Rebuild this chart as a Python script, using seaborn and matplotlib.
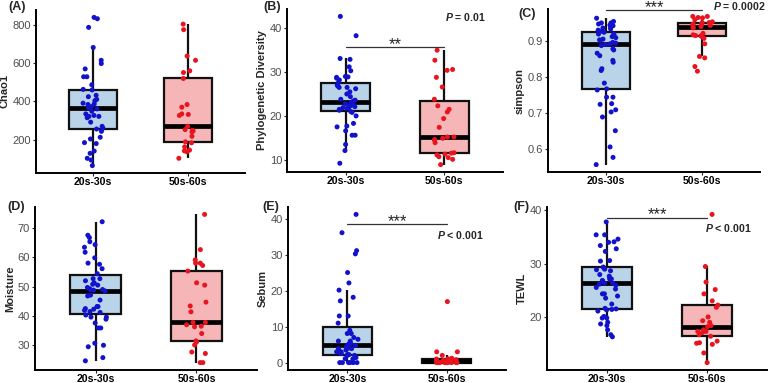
import matplotlib
matplotlib.use("Agg")
import numpy as np
import pandas as pd
import matplotlib.pyplot as plt
import seaborn as sns

sns.set_style("white")
plt.rcParams["font.family"] = ["Liberation Sans", "DejaVu Sans"]
plt.rcParams["mathtext.fontset"] = "custom"
plt.rcParams["mathtext.it"] = "Liberation Sans:italic:bold"
plt.rcParams["mathtext.rm"] = "Liberation Sans:bold"

np.random.seed(3)

# ---------------------------
# Data
# ---------------------------
groups = ["20s-30s", "50s-60s"]

chao1_young = [838, 831, 786, 681, 614, 597, 569, 528, 528, 486, 462, 459, 431, 424,
               410, 403, 390, 386, 383, 372, 366, 360, 348, 334, 326, 321, 321, 314,
               291, 269, 259, 255, 243, 212, 203, 184, 179, 140, 128, 102, 93, 64]
chao1_old = [803, 774, 636, 614, 559, 550, 519, 383, 369, 334, 331, 326, 269, 252,
             248, 245, 240, 217, 188, 183, 162, 145, 141, 136, 102]

pd_young = [42.7, 38.3, 33.1, 32.9, 31.2, 30.3, 29.0, 28.9, 28.8, 28.6, 28.2, 27.6,
            27.0, 26.8, 26.5, 26.5, 26.2, 25.5, 25.0, 24.4, 23.8, 23.6, 23.4,
            23.0, 22.8, 22.6, 22.4, 22.2, 22.1, 21.9, 21.9, 21.7, 21.5, 21.3, 21.0,
            20.8, 20.0, 18.3, 17.7, 17.5, 16.6, 15.6, 15.6, 13.5, 12.1, 9.2]
pd_old = [35.0, 32.7, 30.6, 30.4, 28.8, 26.6, 23.8, 22.3, 21.5, 20.9, 19.4, 17.4,
          15.2, 15.2, 14.9, 14.6, 14.5, 13.9, 11.6, 11.3, 11.5, 11.1, 10.7, 10.5,
          10.1, 8.9]

simpson_young = [0.964, 0.955, 0.951, 0.951, 0.948, 0.945, 0.943, 0.939, 0.937, 0.934,
                 0.931, 0.928, 0.925, 0.920, 0.920, 0.918, 0.913, 0.910, 0.906, 0.904,
                 0.902, 0.897, 0.895, 0.893, 0.891, 0.888, 0.879, 0.876, 0.867, 0.860,
                 0.847, 0.842, 0.824, 0.819, 0.784, 0.768, 0.765, 0.745, 0.745, 0.727,
                 0.725, 0.710, 0.704, 0.690, 0.652, 0.607, 0.578, 0.558]
simpson_old = [0.969, 0.969, 0.966, 0.965, 0.960, 0.954, 0.952, 0.952, 0.948, 0.948,
               0.946, 0.944, 0.941, 0.939, 0.937, 0.922, 0.918, 0.916, 0.915, 0.913,
               0.908, 0.893, 0.858, 0.854, 0.830, 0.817]

moisture_young = [72.1, 67.5, 66.7, 65.3, 64.3, 63.4, 61.7, 59.8, 58.0, 57.6, 56.1,
                  54.4, 52.7, 52.7, 52.0, 51.3, 50.8, 50.5, 49.7, 49.3, 49.0, 49.0,
                  48.8, 48.5, 47.1, 46.8, 45.4, 43.2, 43.2, 42.5, 42.3, 41.9, 41.5,
                  41.2, 40.3, 39.6, 39.6, 38.9, 37.6, 35.9, 35.9, 30.7, 30.0, 29.5,
                  25.8, 24.7]
moisture_old = [74.6, 62.6, 59.1, 58.0, 58.0, 57.2, 55.3, 51.3, 50.5, 44.7, 43.4, 41.4,
                37.8, 37.8, 37.0, 36.5, 36.3, 34.0, 31.5, 31.1, 30.1, 27.7, 27.2,
                24.1, 24.1]

sebum_young = [41.3, 36.2, 31.2, 30.3, 25.1, 22.2, 20.2, 18.2, 17.2, 13.0, 13.0, 11.0,
               9.0, 8.1, 8.1, 7.0, 6.5, 6.0, 6.0, 5.3, 5.3, 5.0, 5.0, 4.8, 4.4, 4.0,
               3.9, 3.9, 3.5, 3.0, 3.0, 3.0, 3.0, 2.5, 2.3, 2.2, 2.0, 2.0, 1.4, 1.1,
               1.0, 0, 0, 0, 0, 0, 0]
sebum_old = [17, 3, 3, 2, 1.2, 1, 1, 1, 1, 1, 0.8, 0.6, 0.5, 0.3,
             0, 0, 0, 0, 0, 0, 0, 0, 0, 0, 0]

tewl_young = [37.8, 35.4, 35.4, 34.6, 34.1, 34.0, 33.4, 32.8, 32.3, 30.6, 30.5, 29.4,
              29.3, 29.0, 28.9, 28.7, 28.0, 27.7, 27.2, 27.2, 26.9, 26.8, 26.4, 26.4,
              26.2, 26.0, 25.6, 25.3, 24.4, 24.4, 24.0, 23.6, 22.5, 21.7, 21.6, 21.5,
              21.4, 21.2, 20.2, 19.9, 19.9, 19.1, 18.8, 18.5, 17.7, 16.8, 16.4]
tewl_old = [39.2, 29.5, 26.6, 25.2, 24.4, 23.1, 22.3, 21.9, 20.1, 19.4, 19.1, 18.5,
            18.3, 17.7, 17.4, 17.4, 17.2, 16.8, 16.5, 15.6, 15.3, 15.2, 15.0, 13.4, 11.6]

panel_labels = ["(A)", "(B)", "(C)", "(D)", "(E)", "(F)"]
ylabels = ["Chao1", "Phylogenetic Diversity", "simpson", "Moisture", "Sebum", "TEWL"]
yticks = [[200, 400, 600, 800], [10, 20, 30, 40], [0.6, 0.7, 0.8, 0.9],
          [30, 40, 50, 60, 70], [0, 10, 20, 30, 40], [20, 30, 40]]
ytick_labels = [["200", "400", "600", "800"], ["10", "20", "30", "40"],
                ["0.6", "0.7", "0.8", "0.9"], ["30", "40", "50", "60", "70"],
                ["0", "10", "20", "30", "40"], ["20", "30", "40"]]
values = [(chao1_young, chao1_old), (pd_young, pd_old), (simpson_young, simpson_old),
          (moisture_young, moisture_old), (sebum_young, sebum_old), (tewl_young, tewl_old)]

# significance: (bracket y, stars, p text, p x, p y)
signif = [None,
          (35.7, "**", r"$\it{P}$ = 0.01", 1.22, 42.5),
          (0.986, "***", r"$\it{P}$ = 0.0002", 1.39, 0.997),
          None,
          (38.6, "***", r"$\it{P}$ < 0.001", 1.14, 35.6),
          (38.6, "***", r"$\it{P}$ < 0.001", 1.21, 36.6)]

box_fill = {"20s-30s": "#b9d3e9", "50s-60s": "#f6b6b8"}
dot_col = {"20s-30s": "#1212cc", "50s-60s": "#e8141e"}

# axes boxes in pixels: left, top, right, bottom
W, H = 768, 383
boxes = [(36, 10, 245, 173), (287, 9, 503, 172), (548, 9, 760, 172),
         (35, 207, 257, 370), (288, 207, 506, 370), (547, 207, 767, 370)]
label_pos = [(8, 7), (263, 7), (518, 14), (7, 207), (262, 207), (513, 207)]

fig = plt.figure(figsize=(7.68, 3.83), dpi=100)

for i in range(6):
    l, t, r, b = boxes[i]
    ax = fig.add_axes([l / W, 1 - b / H, (r - l) / W, (b - t) / H])
    young, old = values[i]
    df = pd.DataFrame({"group": [groups[0]] * len(young) + [groups[1]] * len(old),
                       "value": list(young) + list(old)})

    sns.boxplot(data=df, x="group", y="value", hue="group", palette=box_fill,
                saturation=1, width=0.5, showcaps=False, showfliers=False,
                linecolor="#111111", linewidth=1.6,
                medianprops={"linewidth": 3.4, "color": "black"},
                legend=False, ax=ax)
    sns.stripplot(data=df, x="group", y="value", hue="group", palette=dot_col,
                  jitter=0.11, size=3.6, linewidth=0, legend=False, zorder=3, ax=ax)

    lo, hi = df["value"].min(), df["value"].max()
    pad = 0.05 * (hi - lo)
    ax.set_ylim(lo - pad, hi + pad)
    ax.set_xlim(-0.6, 1.6)
    ax.set_yticks(yticks[i])
    ax.set_yticklabels(ytick_labels[i])
    ax.set_xlabel("")
    ax.set_ylabel(ylabels[i], fontsize=8, fontweight="bold", labelpad=2)

    for s in ["top", "right"]:
        ax.spines[s].set_visible(False)
    for s in ["left", "bottom"]:
        ax.spines[s].set_linewidth(1.4)
        ax.spines[s].set_color("black")
    ax.tick_params(axis="y", labelsize=8, labelcolor="#4d4d4d", length=2,
                   width=0.8, pad=1.5, left=True)
    ax.tick_params(axis="x", labelsize=7.6, length=2, width=0.8, pad=1, bottom=True)
    for lab in ax.get_xticklabels():
        lab.set_fontweight("bold")
        lab.set_color("black")

    sg = signif[i]
    if sg is not None:
        by, stars, ptxt, px, py = sg
        ax.plot([0, 1], [by, by], color="#333333", lw=0.9, clip_on=False, zorder=4)
        ax.annotate(stars, xy=(0.5, by), xytext=(0, -3.5), textcoords="offset points",
                    ha="center", va="bottom", fontsize=12, color="#222222",
                    annotation_clip=False)
        ax.text(px, py, ptxt, ha="center", va="center", fontsize=7.6,
                fontweight="bold", clip_on=False)

    lx, ly = label_pos[i]
    fig.text(lx / W, 1 - ly / H, panel_labels[i], fontsize=9, fontweight="bold",
             ha="left", va="center")

fig.savefig("out.png", dpi=100, facecolor="white")
plt.close(fig)
